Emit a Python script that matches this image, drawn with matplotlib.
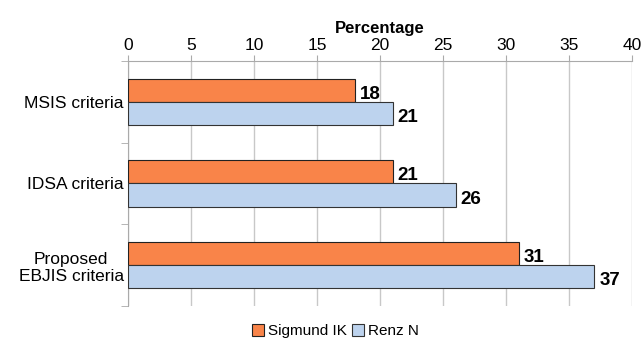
import numpy as np
import matplotlib.pyplot as plt

plt.rcParams['font.family'] = ['Liberation Sans', 'DejaVu Sans']

categories = ['MSIS criteria', 'IDSA criteria', 'Proposed\nEBJIS criteria']
sigmund = [18, 21, 31]
renz = [21, 26, 37]
series_names = ['Sigmund IK', 'Renz N']

fig = plt.figure(figsize=(6.41, 3.4), dpi=100)
ax = fig.add_axes([0.1997, 0.1, 0.7863, 0.7206])

y = np.arange(len(categories))
h = 0.285
ax.barh(y - h / 2, sigmund, height=h, color='#f98449', edgecolor='#222222', linewidth=0.8,
        label=series_names[0], zorder=3)
ax.barh(y + h / 2, renz, height=h, color='#bdd3ee', edgecolor='#333333', linewidth=0.8,
        label=series_names[1], zorder=3)

for yi, v in zip(y - h / 2, sigmund):
    ax.text(v + 0.4, yi + 0.05, str(v), va='center', ha='left', fontsize=13.5, fontweight='bold')
for yi, v in zip(y + h / 2, renz):
    ax.text(v + 0.4, yi + 0.05, str(v), va='center', ha='left', fontsize=13.5, fontweight='bold')

ax.set_xlim(0, 40)
ax.set_ylim(2.5, -0.5)
ax.set_xticks(np.arange(0, 41, 5))
ax.xaxis.tick_top()
ax.xaxis.set_label_position('top')
ax.set_xlabel('Percentage', fontsize=12, fontweight='bold', labelpad=3)
ax.tick_params(axis='x', labelsize=12.5, length=4, color='#aaaaaa', pad=2)

ax.set_yticks(y)
ax.set_yticklabels(categories, fontsize=12.5)
ax.tick_params(axis='y', which='major', length=0, pad=3)
ax.set_yticks([-0.5, 0.5, 1.5, 2.5], minor=True)
ax.tick_params(axis='y', which='minor', length=5, color='#aaaaaa')
for lbl in ax.get_yticklabels():
    lbl.set_multialignment('center')

ax.grid(axis='x', color='#c8c8c8', linewidth=1, zorder=0)
for s in ['right', 'bottom']:
    ax.spines[s].set_visible(False)
ax.spines['top'].set_color('#aaaaaa')
ax.spines['left'].set_color('#aaaaaa')

fig.legend(loc='lower center', bbox_to_anchor=(0.523, -0.035), ncol=2, frameon=False,
           fontsize=11, handlelength=0.8, handleheight=0.8, handletextpad=0.25,
           columnspacing=0.3)

fig.savefig('out.png', dpi=100)
